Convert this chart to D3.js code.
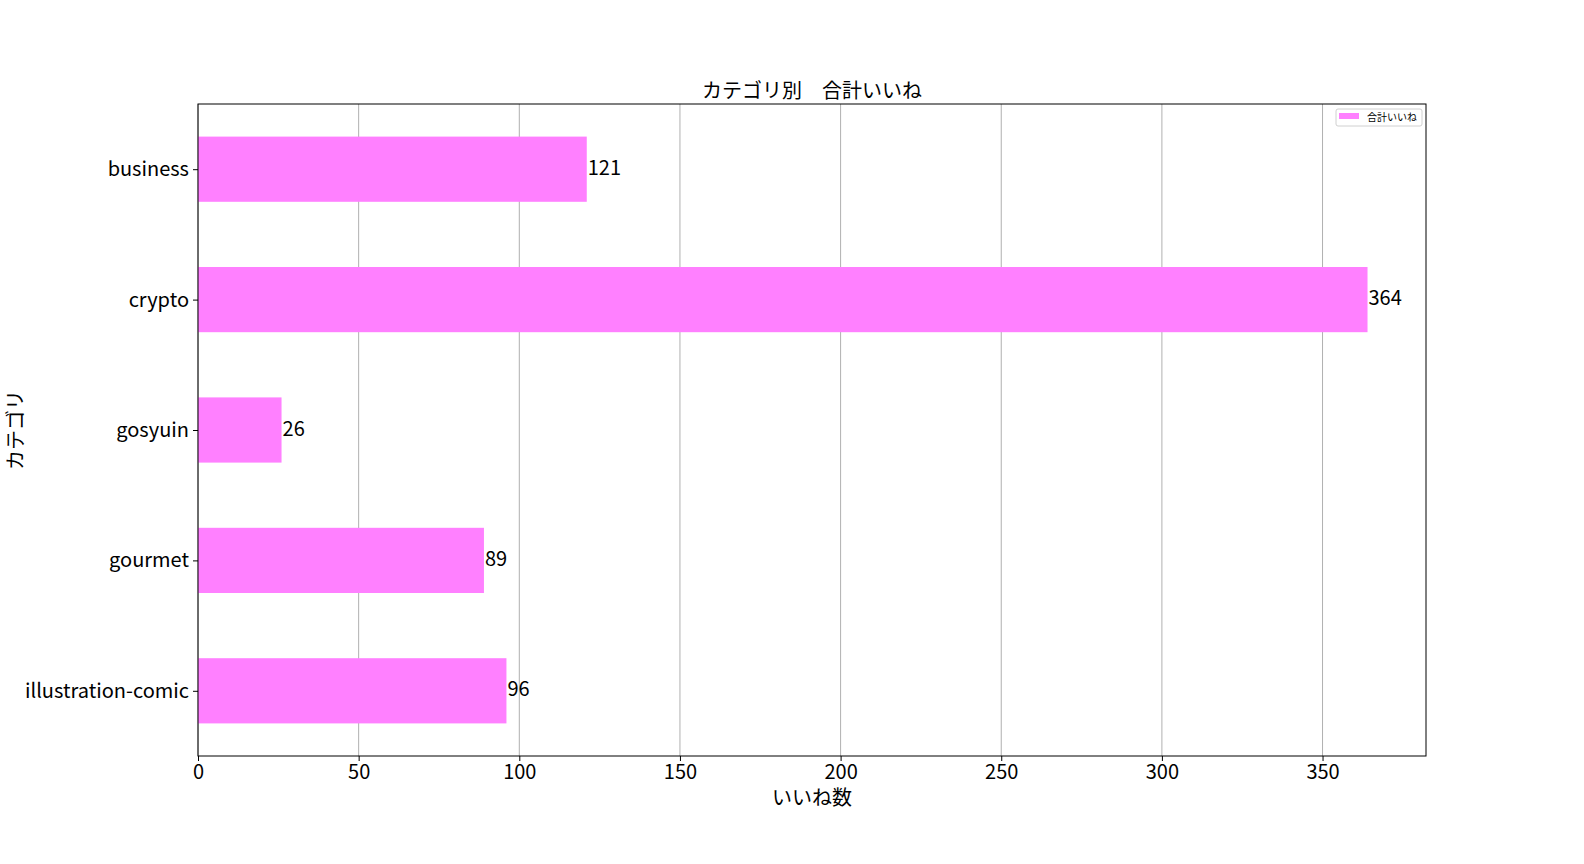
<!DOCTYPE html>
<html>
<head>
<meta charset="utf-8">
<script src="https://cdn.jsdelivr.net/npm/d3@7"></script>
<style>
  body { margin: 0; background: #fff; }
  text { font-family: "Noto Sans CJK JP", "Noto Sans", sans-serif; fill: #000; }
</style>
</head>
<body>
<script>
// data
var categories = ["business", "crypto", "gosyuin", "gourmet", "illustration-comic"];
var likes = [121, 364, 26, 89, 96];
var xTicks = [0, 50, 100, 150, 200, 250, 300, 350];
var seriesName = "合計いいね";

var w = 1584;
var h = 864;

// axes box
var pdL = 198;
var pdR = 1426;
var pdT = 104;
var pdB = 756;

var barCol = "#ff80ff";

var svg = d3.select("body")
            .append("svg")
            .attr("width", w)
            .attr("height", h);

var scaleX = d3.scaleLinear()
               .domain([0, d3.max(likes) * 1.05])
               .range([pdL, pdR]);

// bars centred on integer positions, limits -0.5..n-0.5
var scaleY = d3.scaleLinear()
               .domain([-0.5, categories.length - 0.5])
               .range([pdT, pdB]);
var barH = scaleY(0.5) - scaleY(0);

// grid
svg.append("g")
   .selectAll("line")
   .data(xTicks)
   .enter()
   .append("line")
   .attr("x1", function(d) { return scaleX(d); })
   .attr("x2", function(d) { return scaleX(d); })
   .attr("y1", pdT)
   .attr("y2", pdB)
   .attr("stroke", "#b0b0b0")
   .attr("stroke-width", 1);

// bars
svg.append("g")
   .selectAll("rect")
   .data(likes)
   .enter()
   .append("rect")
   .attr("x", scaleX(0))
   .attr("y", function(d, i) { return scaleY(i) - barH / 2; })
   .attr("width", function(d) { return scaleX(d) - scaleX(0); })
   .attr("height", barH)
   .attr("fill", barCol);

// value labels
svg.append("g")
   .selectAll("text")
   .data(likes)
   .enter()
   .append("text")
   .text(function(d) { return d; })
   .attr("x", function(d) { return scaleX(d) + 1; })
   .attr("y", function(d, i) { return scaleY(i) - 1; })
   .attr("dy", "0.33em")
   .attr("font-size", 20);

// frame
svg.append("rect")
   .attr("x", pdL)
   .attr("y", pdT)
   .attr("width", pdR - pdL)
   .attr("height", pdB - pdT)
   .attr("fill", "none")
   .attr("stroke", "#000")
   .attr("stroke-width", 1);

// x-axis
var axisX = d3.axisBottom(scaleX)
              .tickValues(xTicks)
              .tickSize(5)
              .tickPadding(4);
var gx = svg.append("g")
   .attr("transform", "translate(0," + pdB + ")")
   .call(axisX);
gx.select(".domain").remove();
gx.selectAll("text").attr("font-size", 20).attr("font-family", null);

// y-axis
var axisY = d3.axisLeft(scaleY)
              .tickValues(d3.range(categories.length))
              .tickFormat(function(i) { return categories[i]; })
              .tickSize(5)
              .tickPadding(4);
var gy = svg.append("g")
   .attr("transform", "translate(" + pdL + ",0)")
   .call(axisY);
gy.select(".domain").remove();
gy.selectAll("text").attr("font-size", 20).attr("font-family", null);

// title
svg.append("text")
   .text("カテゴリ別　合計いいね")
   .attr("x", (pdL + pdR) / 2)
   .attr("y", pdT - 6)
   .attr("text-anchor", "middle")
   .attr("font-size", 20);

// axis labels
svg.append("text")
   .text("いいね数")
   .attr("x", (pdL + pdR) / 2)
   .attr("y", 805)
   .attr("text-anchor", "middle")
   .attr("font-size", 20);

svg.append("text")
   .text("カテゴリ")
   .attr("transform", "translate(23," + ((pdT + pdB) / 2) + ") rotate(-90)")
   .attr("text-anchor", "middle")
   .attr("font-size", 20);

// legend
var lg = svg.append("g");
lg.append("rect")
  .attr("x", 1336)
  .attr("y", 109)
  .attr("width", 86)
  .attr("height", 17)
  .attr("rx", 2)
  .attr("fill", "#fff")
  .attr("stroke", "#d0d0d0");
lg.append("rect")
  .attr("x", 1339)
  .attr("y", 113)
  .attr("width", 20)
  .attr("height", 6)
  .attr("fill", barCol);
lg.append("text")
  .text(seriesName)
  .attr("x", 1367)
  .attr("y", 117.5)
  .attr("dy", "0.33em")
  .attr("font-size", 10);
</script>
</body>
</html>
